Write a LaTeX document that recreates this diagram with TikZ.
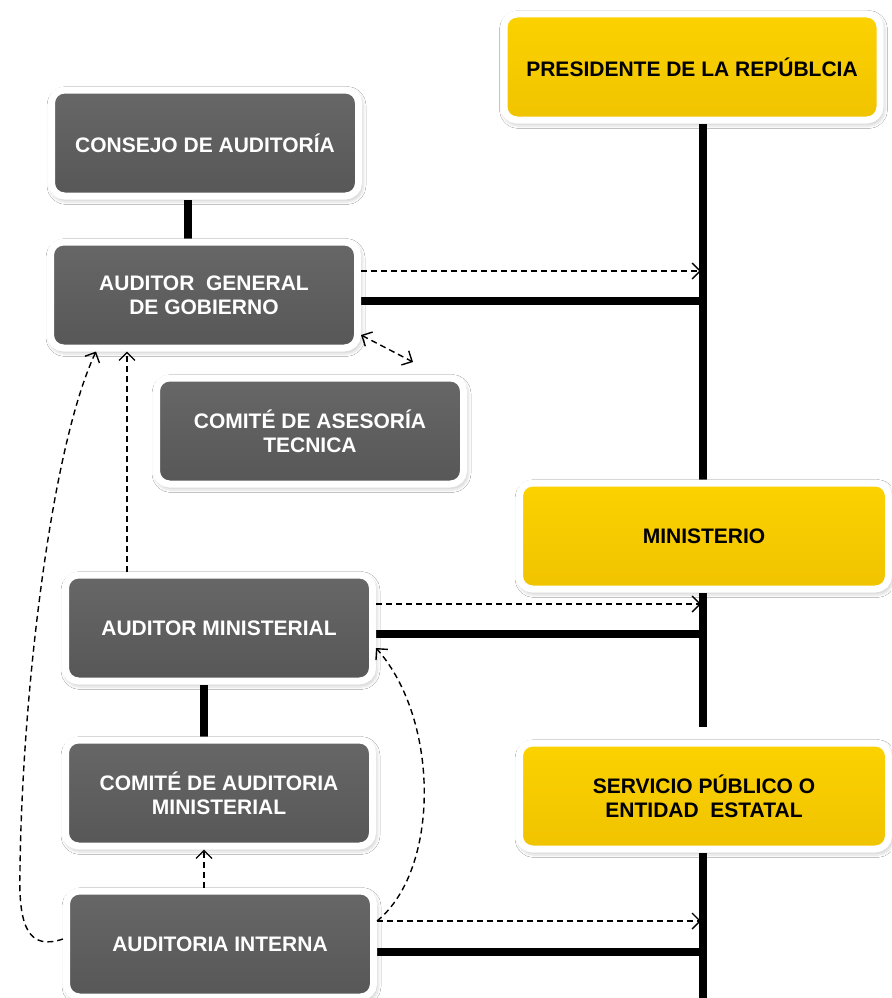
\documentclass[tikz,border=0pt]{standalone}
\usepackage{fontspec}
\setmainfont{Liberation Sans}
\usetikzlibrary{arrows.meta,backgrounds,calc,shadows.blur}
\definecolor{greytop}{HTML}{676767}
\definecolor{greybot}{HTML}{575757}
\definecolor{yeltop}{HTML}{FCD200}
\definecolor{yelbot}{HTML}{F0C300}
\begin{document}
\begin{tikzpicture}[x=1pt,y=-1pt,
  box/.style={draw=white,line width=7pt,rounded corners=13pt,minimum width=307pt,
    minimum height=106pt,inner sep=0pt,align=center,
    font=\fontsize{21}{24}\selectfont\bfseries,
    blur shadow={shadow xshift=1.5pt,shadow yshift=-2.5pt,shadow opacity=40,shadow blur radius=6pt}},
  greybox/.style={box,top color=greytop,bottom color=greybot,text=white},
  yellowbox/.style={box,top color=yeltop,bottom color=yelbot,text=black,minimum width=369pt},
  solidlink/.style={line width=8pt},
  dashlink/.style={line width=1.4pt,dash pattern=on 6pt off 4pt},
  arr/.style={-{Straight Barb[length=8pt,width=16pt]}},
  darr/.style={{Straight Barb[length=8pt,width=16pt]}-{Straight Barb[length=8pt,width=16pt]}}
]
\useasboundingbox (0,0) rectangle (891,998);

% nodes
\node[greybox] (cons) at (205,143) {CONSEJO DE AUDITORÍA};
\node[greybox] (ag)   at (204,295) {AUDITOR\ \ GENERAL\\DE GOBIERNO};
\node[greybox] (cat)  at (310,431) {COMITÉ DE ASESORÍA\\TECNICA};
\node[greybox] (am)   at (219,628) {AUDITOR MINISTERIAL};
\node[greybox] (cam)  at (219,793) {COMITÉ DE AUDITORIA\\MINISTERIAL};
\node[greybox] (ai)   at (220,944) {AUDITORIA INTERNA};
\node[yellowbox,minimum width=376pt] (pres) at (692,67) {PRESIDENTE DE LA REPÚBLCIA};
\node[yellowbox] (min)  at (704,536) {MINISTERIO};
\node[yellowbox] (serv) at (704,796) {SERVICIO PÚBLICO O\\ENTIDAD\ \ ESTATAL};

\coordinate (spine) at (703,0);
\coordinate (spinestop) at (703,727);
\coordinate (spinebot) at (703,998);
\coordinate (dend) at (413,362);

% solid connectors behind the boxes
\begin{pgfonlayer}{background}
\fill[white] (0,0) rectangle (891,998);
\draw[solidlink] (pres.south -| spine) -- (min.north -| spine);
\draw[solidlink] (min.south -| spine) -- (spinestop);
\draw[solidlink] (serv.south -| spine) -- (spinebot);
\draw[solidlink] ([yshift=-6pt]ag.east) -- ([yshift=-6pt]ag.east -| spine);
\draw[solidlink] ([yshift=-6pt]am.east) -- ([yshift=-6pt]am.east -| spine);
\draw[solidlink] ([yshift=-8pt]ai.east) -- ([yshift=-8pt]ai.east -| spine);
\draw[solidlink] ([xshift=-17pt]cons.south) -- ([xshift=-17pt]cons.south |- ag.north);
\draw[solidlink] ([xshift=-15pt]am.south) -- ([xshift=-15pt]am.south |- cam.north);
\end{pgfonlayer}

% dashed connectors
\draw[dashlink,arr] ([yshift=24pt]ag.east) -- ([yshift=24pt,xshift=-2pt]ag.east -| spine);
\draw[dashlink,arr] ([yshift=24pt]am.east) -- ([yshift=24pt,xshift=-2pt]am.east -| spine);
\draw[dashlink,arr] ([yshift=23pt]ai.east) -- ([yshift=23pt,xshift=-2pt]ai.east -| spine);
\draw[dashlink,darr] ($(ag.east)+(0,40)$) -- (dend);
\draw[dashlink,arr] ([xshift=-92pt]am.north) -- ([xshift=-92pt]am.north |- ag.south);
\draw[dashlink,arr] ([xshift=-16pt]ai.north) -- ([xshift=-16pt]ai.north |- cam.south);
\draw[dashlink,arr] ($(ai.west)+(0,-5)$) .. controls (30,950) and (18,930) .. (20,870)
   .. controls (22,700) and (50,450) .. ($(ag.south west)+(49,0)$);
\draw[dashlink,arr] ($(ai.east)+(0,-23)$) .. controls (440,870) and (440,720) .. ($(am.east)+(0,20)$);
\end{tikzpicture}
\end{document}
